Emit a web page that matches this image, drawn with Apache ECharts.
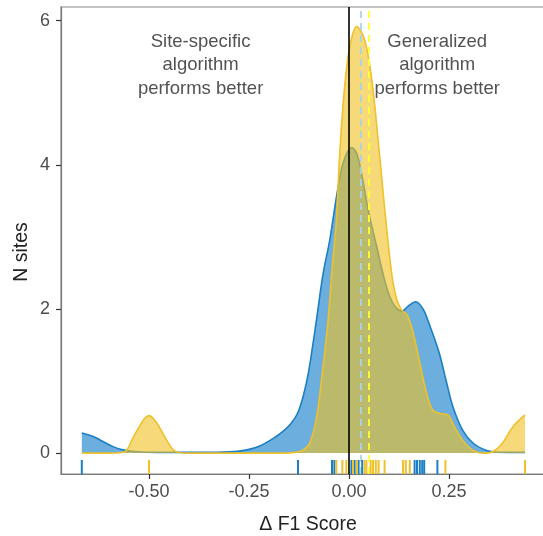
<!DOCTYPE html>
<html>
<head>
<meta charset="utf-8">
<script src="https://cdn.jsdelivr.net/npm/echarts@6/dist/echarts.min.js"></script>
<style>html,body{margin:0;padding:0;background:#fff}#c{width:543px;height:536px}</style>
</head>
<body>
<div id="c"></div>
<script>
// ---- data ----
var xTicks = [-0.5, -0.25, 0, 0.25];
var yTicks = [0, 2, 4, 6];
var blueDensity = [
  [-0.668, 0.28], [-0.641, 0.235], [-0.615, 0.16], [-0.59, 0.09], [-0.565, 0.045],
  [-0.53, 0.018], [-0.48, 0.01], [-0.4, 0.01], [-0.33, 0.012], [-0.29, 0.02],
  [-0.255, 0.045], [-0.223, 0.1], [-0.19, 0.2], [-0.165, 0.3], [-0.145, 0.41],
  [-0.128, 0.56], [-0.114, 0.8], [-0.102, 1.1], [-0.091, 1.48], [-0.08, 1.9],
  [-0.065, 2.48], [-0.048, 2.96], [-0.03, 3.6], [-0.015, 4.02], [0.007, 4.24],
  [0.02, 4.15], [0.034, 3.8], [0.047, 3.4], [0.059, 3.1], [0.07, 2.85],
  [0.08, 2.6], [0.089, 2.4], [0.102, 2.17], [0.117, 2.02], [0.132, 1.97],
  [0.148, 2.04], [0.167, 2.1], [0.185, 2.0], [0.2, 1.8], [0.225, 1.4],
  [0.243, 1.0], [0.26, 0.64], [0.284, 0.32], [0.31, 0.14], [0.344, 0.035],
  [0.37, 0.012], [0.41, 0.01], [0.44, 0.01]
];
var yellowDensity = [
  [-0.668, 0.0], [-0.6, 0.0], [-0.573, 0.005], [-0.556, 0.04], [-0.541, 0.2],
  [-0.523, 0.38], [-0.511, 0.48], [-0.5, 0.52], [-0.486, 0.46], [-0.473, 0.35],
  [-0.456, 0.18], [-0.44, 0.05], [-0.423, 0.005], [-0.38, 0.0], [-0.25, 0.0],
  [-0.16, 0.0], [-0.135, 0.01], [-0.115, 0.04], [-0.098, 0.14], [-0.081, 0.5],
  [-0.066, 1.15], [-0.053, 1.8], [-0.041, 2.63], [-0.032, 3.2], [-0.023, 4.17],
  [-0.011, 5.08], [0.002, 5.64], [0.019, 5.92], [0.039, 5.74], [0.057, 5.18],
  [0.072, 4.39], [0.084, 3.69], [0.097, 2.96], [0.109, 2.4], [0.12, 2.12],
  [0.132, 1.98], [0.145, 1.92], [0.159, 1.7], [0.177, 1.25], [0.194, 0.83],
  [0.209, 0.6], [0.227, 0.55], [0.247, 0.53], [0.264, 0.36], [0.284, 0.18],
  [0.309, 0.04], [0.334, 0.0], [0.359, 0.02], [0.384, 0.14], [0.409, 0.36],
  [0.44, 0.53]
];
var blueRug = [-0.668, -0.1275, -0.0425, -0.0366, 0.006, 0.014, 0.024, 0.033,
  0.164, 0.17, 0.177, 0.183, 0.188, 0.221];
var yellowRug = [-0.5, -0.0316, -0.0166, -0.0066, 0.01, 0.02, 0.039, 0.0435,
  0.054, 0.06, 0.067, 0.074, 0.089, 0.135, 0.142, 0.152, 0.241, 0.44];
var zeroLine = [0];
var blueMean = [0.027];
var yellowMean = [0.049];
var annotations = [
  { x: -0.371, y: 5.38, text: 'Site-specific\nalgorithm\nperforms better' },
  { x: 0.2205, y: 5.38, text: 'Generalized\nalgorithm\nperforms better' }
];

// ---- chart ----
var X_MIN = -0.72, X_MAX = 0.515, Y_MIN = -0.29, Y_MAX = 6.19;
var FONT = '"Liberation Sans", Arial, Helvetica, sans-serif';
var BLUE_LINE = '#1c7fc4', BLUE_FILL = 'rgba(10,121,200,0.6)';
var YEL_LINE = '#efc12b', YEL_FILL = 'rgba(240,192,32,0.6)';

function rugSeries(vals, color) {
  return {
    type: 'custom',
    z: 5,
    data: vals.map(function (v) { return [v, Y_MIN]; }),
    encode: { x: 0, y: 1 },
    renderItem: function (params, api) {
      var p = api.coord([api.value(0), Y_MIN]);
      return {
        type: 'line',
        shape: { x1: p[0], y1: p[1], x2: p[0], y2: p[1] - 14 },
        style: { stroke: color, lineWidth: 2 }
      };
    },
    silent: true
  };
}

var chart = echarts.init(document.getElementById('c'), null, { renderer: 'canvas' });
chart.setOption({
  animation: false,
  grid: {
    left: 61, top: 7, right: -12, bottom: 62,
    show: true, borderColor: '#8a8a8a', borderWidth: 1.2,
    outerBoundsMode: 'none', containLabel: false
  },
  xAxis: {
    type: 'value', min: X_MIN, max: X_MAX,
    name: 'Δ F1 Score', nameLocation: 'middle', nameGap: 41,
    nameTextStyle: { fontFamily: FONT, fontSize: 19.5, color: '#222' },
    axisLine: { show: true, onZero: false, lineStyle: { color: '#7a7a7a', width: 1.2 } },
    axisTick: { show: true, inside: false, customValues: xTicks, length: 5, lineStyle: { color: '#333', width: 1.2 } },
    axisLabel: {
      customValues: xTicks, margin: 9, fontFamily: FONT, fontSize: 18, color: '#4d4d4d',
      formatter: function (v) { return v.toFixed(2); }
    },
    splitLine: { show: false }
  },
  yAxis: {
    type: 'value', min: Y_MIN, max: Y_MAX,
    axisLine: { show: true, onZero: false, lineStyle: { color: '#7a7a7a', width: 1.2 } },
    axisTick: { show: true, inside: false, customValues: yTicks, length: 5, lineStyle: { color: '#333', width: 1.2 } },
    axisLabel: {
      customValues: yTicks, margin: 11, fontFamily: FONT, fontSize: 18, color: '#4d4d4d'
    },
    splitLine: { show: false }
  },
  graphic: [{
    type: 'text', x: 22, y: 252, rotation: Math.PI / 2,
    style: {
      text: 'N sites', fontFamily: FONT, fontSize: 19.5, fill: '#222',
      align: 'center', verticalAlign: 'middle', textAlign: 'center', textVerticalAlign: 'middle'
    }
  }],
  series: [
    {
      type: 'line', data: blueDensity, smooth: 0.35, showSymbol: false, symbol: 'none',
      lineStyle: { color: BLUE_LINE, width: 1.6 },
      areaStyle: { color: BLUE_FILL, opacity: 1, origin: 0 },
      z: 2, silent: true
    },
    {
      type: 'line', data: yellowDensity, smooth: 0.35, showSymbol: false, symbol: 'none',
      lineStyle: { color: YEL_LINE, width: 1.6 },
      areaStyle: { color: YEL_FILL, opacity: 1, origin: 0 },
      z: 3, silent: true
    },
    rugSeries(blueRug, BLUE_LINE),
    rugSeries(yellowRug, YEL_LINE),
    {
      type: 'line', data: [], z: 10, silent: true,
      markLine: {
        symbol: 'none', silent: true, label: { show: false }, animation: false,
        data: [].concat(
          blueMean.map(function (v) { return { xAxis: v, lineStyle: { color: '#a8d3ea', width: 1.8, type: [7, 5] } }; }),
          yellowMean.map(function (v) { return { xAxis: v, lineStyle: { color: '#ffff33', width: 1.8, type: [7, 5] } }; }),
          zeroLine.map(function (v) { return { xAxis: v, lineStyle: { color: '#000', width: 1.6, type: 'solid' } }; })
        )
      }
    },
    {
      type: 'scatter', z: 12, silent: true, symbolSize: 1,
      itemStyle: { color: 'rgba(0,0,0,0)' },
      data: annotations.map(function (a) { return { value: [a.x, a.y], text: a.text }; }),
      label: {
        show: true, position: 'inside', align: 'center', verticalAlign: 'middle',
        fontFamily: FONT, fontSize: 18.5, lineHeight: 23.5, color: '#262626',
        formatter: function (p) { return p.data.text; }
      }
    }
  ]
});
</script>
</body>
</html>
